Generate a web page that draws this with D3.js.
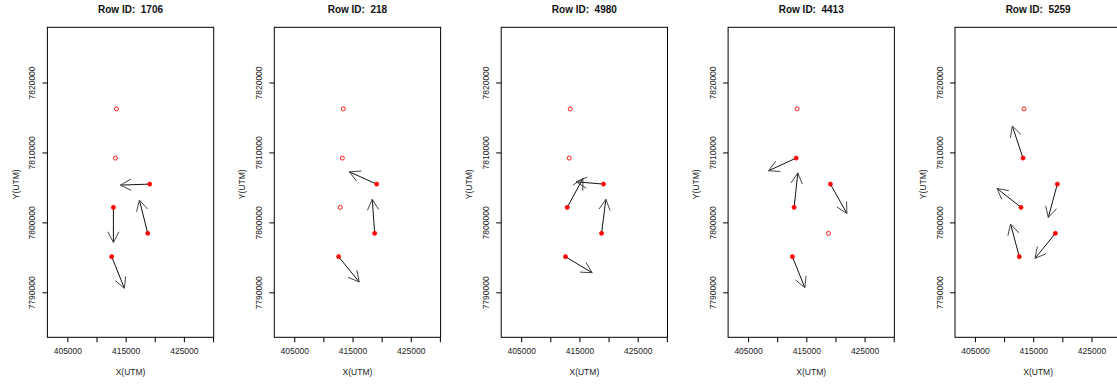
<!DOCTYPE html>
<html>

<head>
    <meta charset="utf-8">
    <style>
        body {
            margin: 0;
            background: #fff;
            overflow: hidden;
        }

        svg {
            display: block;
            font-family: "Liberation Sans", Arial, sans-serif;
        }

        .axis .domain {
            display: none;
        }

        .axis .tick line {
            stroke: #000;
        }

        .axis .tick text {
            font-size: 8.5px;
            fill: #222;
        }

        .title {
            font-size: 10px;
            font-weight: bold;
            fill: #111;
        }

        .axis-label {
            font-size: 8.5px;
            fill: #222;
        }
    </style>
</head>

<body>
    <svg width="1117" height="385"></svg>

    <script src="https://d3js.org/d3.v7.min.js"></script>

    <script>
        // one panel per row id
        const rowIds = [1706, 218, 4980, 4413, 5259]

        // station positions (UTM metres)
        const stationX = [413420, 413250, 419140, 412900, 418800, 412610]
        const stationY = [7816230, 7809190, 7805470, 7802140, 7798430, 7795090]

        // vector components for each panel, null = no reading (open circle)
        const vecU = [
            [null, null, -5030, 0, -1430, 2180],
            [null, null, -4690, null, -410, 3540],
            [null, null, -4690, 2700, 740, 4570],
            [null, -4740, 2820, 640, null, 2130],
            [null, -1840, -1550, -4120, -3490, -1500]
        ]
        const vecV = [
            [null, null, -140, -5000, 4760, -4510],
            [null, null, 1760, null, 4860, -3610],
            [null, null, 330, 4140, 4860, -2290],
            [null, -1810, -4190, 4940, null, -4430],
            [null, 4570, -4760, 2710, -3570, 4670]
        ]

        // axis limits and ticks
        const xLimits = [401570, 430120]
        const yLimits = [7783570, 7827890]
        const xTicks = [405000, 410000, 415000, 420000, 425000, 430000]
        const xTickLabels = [405000, 415000, 425000]
        const yTicks = [7790000, 7800000, 7810000, 7820000]

        let svg = d3.select("svg")

        let panelStep = 226.9
        let box = { left: 47.4, top: 27.3, width: 166.3, height: 310 }

        let x = d3.scaleLinear()
            .domain(xLimits)
            .range([0, box.width])

        let y = d3.scaleLinear()
            .domain(yLimits)
            .range([box.height, 0])

        let headLen = 12
        let headAngle = 28 * Math.PI / 180

        rowIds.forEach(function (rowId, p) {

            let panel = svg.append("g")
                .attr("transform", `translate(${box.left + p * panelStep},${box.top})`)

            // title
            panel.append("text")
                .attr("class", "title")
                .attr("x", box.width / 2)
                .attr("y", 12.7 - box.top)
                .attr("text-anchor", "middle")
                .style("white-space", "pre")
                .text("Row ID:  " + rowId)

            // axes
            panel.append("g")
                .attr("class", "axis x")
                .attr("transform", `translate(0,${box.height})`)
                .call(d3.axisBottom(x)
                    .tickValues(xTicks)
                    .tickSize(5)
                    .tickPadding(6)
                    .tickFormat(d => xTickLabels.includes(d) ? d3.format("d")(d) : ""))

            let yAxis = panel.append("g")
                .attr("class", "axis y")
                .call(d3.axisLeft(y)
                    .tickValues(yTicks)
                    .tickSize(5)
                    .tickFormat(d3.format("d")))

            // rotated y tick labels like base R
            yAxis.selectAll(".tick text")
                .attr("x", null)
                .attr("dy", null)
                .attr("text-anchor", "middle")
                .attr("transform", "translate(-12.4,0) rotate(-90)")

            panel.append("text")
                .attr("class", "axis-label")
                .attr("text-anchor", "middle")
                .attr("transform", `translate(-28.9,${box.height / 2 + 2}) rotate(-90)`)
                .text("Y(UTM)")

            panel.append("text")
                .attr("class", "axis-label")
                .attr("text-anchor", "middle")
                .attr("x", box.width / 2)
                .attr("y", 375 - box.top)
                .text("X(UTM)")

            // plot box
            panel.append("rect")
                .attr("width", box.width)
                .attr("height", box.height)
                .style("fill", "none")
                .style("stroke", "#000")
                .style("stroke-width", 1)

            let stations = stationX.map(function (sx, i) {
                return { x: sx, y: stationY[i], u: vecU[p][i], v: vecV[p][i] }
            })
            let active = stations.filter(d => d.u !== null)

            // arrows
            let arrows = panel.append("g")
                .selectAll("g")
                .data(active)
                .join("g")

            arrows.append("line")
                .attr("x1", d => x(d.x))
                .attr("y1", d => y(d.y))
                .attr("x2", d => x(d.x + d.u))
                .attr("y2", d => y(d.y + d.v))
                .style("stroke", "#111")
                .style("stroke-width", 1)

            arrows.append("path")
                .attr("d", function (d) {
                    let x1 = x(d.x), y1 = y(d.y)
                    let x2 = x(d.x + d.u), y2 = y(d.y + d.v)
                    let a = Math.atan2(y1 - y2, x1 - x2)
                    let p1 = [x2 + headLen * Math.cos(a + headAngle), y2 + headLen * Math.sin(a + headAngle)]
                    let p2 = [x2 + headLen * Math.cos(a - headAngle), y2 + headLen * Math.sin(a - headAngle)]
                    return `M${p1}L${x2},${y2}L${p2}`
                })
                .style("fill", "none")
                .style("stroke", "#444")
                .style("stroke-width", 1)

            // station points
            panel.append("g")
                .selectAll("circle")
                .data(stations)
                .join("circle")
                .attr("cx", d => x(d.x))
                .attr("cy", d => y(d.y))
                .attr("r", d => d.u === null ? 2 : 2.1)
                .style("fill", d => d.u === null ? "none" : "#f00")
                .style("stroke", "#f00")
                .style("stroke-width", d => d.u === null ? 0.9 : 0.6)
        })
    </script>
</body>

</html>
